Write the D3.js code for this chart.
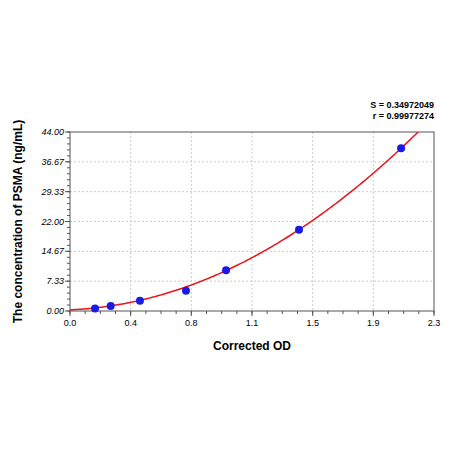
<!DOCTYPE html><html><head><script src="https://d3js.org/d3.v7.min.js"></script>
<style>body{margin:0;background:#fff}text{font-family:"Liberation Sans",Arial,sans-serif}</style></head><body>
<svg id="c" width="450" height="450"></svg>
<script>
const odValues=[0.158,0.257,0.442,0.733,0.986,1.447,2.092];
const concValues=[0.625,1.25,2.5,5,10,20,40];
const xTicks=[0,0.3833,0.7667,1.15,1.5333,1.9167,2.3];
const xTickLabels=["0.0","0.4","0.8","1.1","1.5","1.9","2.3"];
const yTicks=[0,7.33,14.67,22,29.33,36.67,44];
const yTickLabels=["0.00","7.33","14.67","22.00","29.33","36.67","44.00"];
const fitCoef=[0.3,1.57,8.32];
const stats=["S = 0.34972049","r = 0.99977274"];
const svg=d3.select("#c");
const L=70,R=434,T=132,B=311;
const x=d3.scaleLinear().domain([0,2.3]).range([L,R]);
const y=d3.scaleLinear().domain([0,44]).range([B,T]);
const g=svg.append("g");
// grid
g.selectAll(".gx").data(xTicks.slice(1,-1)).join("line").attr("x1",d=>x(d)).attr("x2",d=>x(d)).attr("y1",T).attr("y2",B).attr("stroke","#ccc").attr("stroke-dasharray","2,2");
g.selectAll(".gy").data(yTicks.slice(1,-1)).join("line").attr("y1",d=>y(d)).attr("y2",d=>y(d)).attr("x1",L).attr("x2",R).attr("stroke","#ccc").attr("stroke-dasharray","2,2");
g.append("rect").attr("x",L).attr("y",T).attr("width",R-L).attr("height",B-T).attr("fill","none").attr("stroke","#555");
// minor ticks
const xMinor=d3.range(0,2.3001,2.3/24), yMinor=d3.range(0,44.001,44/30);
g.selectAll(".mx").data(xMinor).join("line").attr("x1",d=>x(d)).attr("x2",d=>x(d)).attr("y1",B).attr("y2",B+3).attr("stroke","#555");
g.selectAll(".my").data(yMinor).join("line").attr("y1",d=>y(d)).attr("y2",d=>y(d)).attr("x1",L-3).attr("x2",L).attr("stroke","#555");
g.selectAll(".tx").data(xTicks).join("line").attr("x1",d=>x(d)).attr("x2",d=>x(d)).attr("y1",B).attr("y2",B+5).attr("stroke","#555");
g.selectAll(".ty").data(yTicks).join("line").attr("y1",d=>y(d)).attr("y2",d=>y(d)).attr("x1",L-5).attr("x2",L).attr("stroke","#555");
g.selectAll(".lx").data(xTicks).join("text").attr("x",d=>x(d)).attr("y",B+15).attr("text-anchor","middle").attr("font-size",9).text((d,i)=>xTickLabels[i]);
g.selectAll(".ly").data(yTicks).join("text").attr("x",L-6).attr("y",d=>y(d)+3).attr("text-anchor","end").attr("font-size",9).attr("font-style","italic").text((d,i)=>yTickLabels[i]);
// curve
svg.append("clipPath").attr("id","cp").append("rect").attr("x",L).attr("y",T).attr("width",R-L).attr("height",B-T);
const f=v=>fitCoef[0]+fitCoef[1]*v+fitCoef[2]*v*v;
const cx=d3.range(0,2.3,0.01);
g.append("path").attr("clip-path","url(#cp)").attr("d",d3.line().x(d=>x(d)).y(d=>y(f(d)))(cx)).attr("fill","none").attr("stroke","#e8141a").attr("stroke-width",1.5);
g.selectAll(".pt").data(odValues).join("circle").attr("cx",d=>x(d)).attr("cy",(d,i)=>y(concValues[i])).attr("r",4).attr("fill","#1a1ae6");
svg.append("text").attr("x",(L+R)/2).attr("y",350).attr("text-anchor","middle").attr("font-size",12).attr("font-weight","bold").text("Corrected OD");
svg.append("text").attr("transform",`translate(22,${(T+B)/2}) rotate(-90)`).attr("text-anchor","middle").attr("font-size",12).attr("font-weight","bold").text("The concentration of PSMA (ng/mL)");
svg.selectAll(".st").data(stats).join("text").attr("x",R).attr("y",(d,i)=>108+i*11).attr("text-anchor","end").attr("font-size",9).attr("font-weight","bold").text(d=>d);
</script></body></html>
